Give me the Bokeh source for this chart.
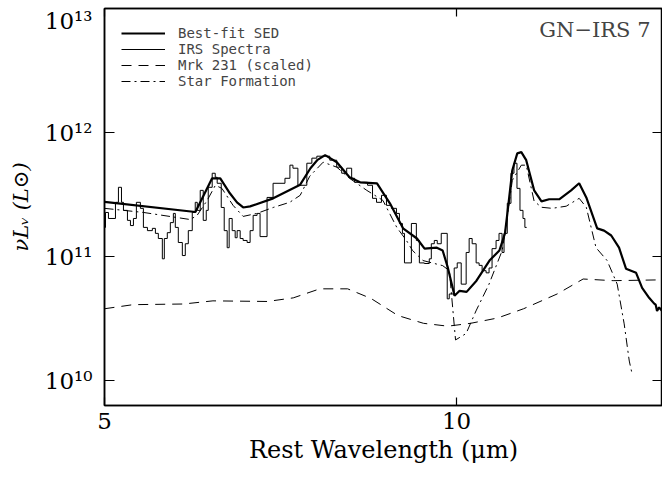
from bokeh.plotting import figure
from bokeh.models import LogAxis, FixedTicker, Label, Legend, LegendItem, CustomJSTickFormatter
from bokeh.embed import file_html
from bokeh.resources import INLINE

# ---------------- data (rest wavelength in micron, nuL_nu in L_sun) ----------------
sed_wl = [5.00, 5.98, 6.18, 6.28, 6.40, 6.49, 6.57, 6.66, 6.97, 7.35, 7.50, 7.60, 7.72, 7.90,
          8.10, 8.27, 8.55, 8.77, 9.00, 9.25, 9.39, 9.62, 9.73, 9.83, 9.96, 10.06, 10.20, 10.40,
          10.67, 10.88, 11.00, 11.06, 11.16, 11.27, 11.36, 11.47, 11.65, 11.82, 12.00, 12.24,
          12.53, 12.73, 12.91, 13.19, 13.37, 13.56, 13.77, 13.96, 14.24, 14.41, 14.61, 14.75,
          14.80, 14.84, 14.90, 15.00]
sed_L = [2.76e11, 2.29e11, 4.28e11, 4.28e11, 3.24e11, 2.74e11, 2.49e11, 2.54e11, 2.95e11, 3.8e11,
         5.16e11, 5.99e11, 6.58e11, 5.77e11, 4.36e11, 3.97e11, 3.90e11, 2.69e11, 1.69e11, 1.40e11,
         1.16e11, 1.18e11, 1.12e11, 8.15e10, 4.83e10, 5.3e10, 5.2e10, 6.4e10, 9.3e10, 1.12e11,
         1.54e11, 2.36e11, 4.97e11, 6.8e11, 6.95e11, 5.99e11, 3.42e11, 2.79e11, 2.9e11, 2.9e11,
         3.42e11, 3.9e11, 3.0e11, 1.69e11, 1.62e11, 1.48e11, 1.18e11, 8.0e10, 7.4e10, 5.6e10,
         4.66e10, 4.2e10, 4.1e10, 3.65e10, 3.9e10, 3.6e10]

irs_wl = [5.000, 5.010, 5.039, 5.109, 5.139, 5.170, 5.190, 5.231, 5.262, 5.293, 5.324, 5.366,
          5.398, 5.441, 5.494, 5.527, 5.559, 5.603, 5.625, 5.658, 5.692, 5.726, 5.748, 5.782,
          5.828, 5.862, 5.897, 5.943, 5.978, 6.002, 6.037, 6.073, 6.109, 6.133, 6.181, 6.218,
          6.242, 6.292, 6.329, 6.366, 6.391, 6.429, 6.467, 6.492, 6.531, 6.569, 6.621, 6.660,
          6.700, 6.752, 6.792, 6.886, 6.968, 7.133, 7.203, 7.246, 7.317, 7.447, 7.521, 7.595,
          7.791, 7.898, 7.976, 8.055, 8.134, 8.182, 8.393, 8.475, 8.542, 8.626, 8.711, 8.797,
          8.884, 8.936, 8.989, 9.025, 9.149, 9.239, 9.294, 9.385, 9.477, 9.515, 9.571, 9.627,
          9.703, 9.818, 9.857, 9.954, 10.013, 10.092, 10.191, 10.251, 10.312, 10.393, 10.454,
          10.516, 10.599, 10.661, 10.724, 10.809, 10.872, 10.937, 10.980, 11.050, 11.131,
          11.197, 11.263, 11.330, 11.397, 11.440]
irs_L = [1.72e11, 2.27e11, 2.03e11, 2.74e11, 3.62e11, 2.74e11, 2.36e11, 1.96e11, 1.78e11, 2.03e11,
         2.74e11, 2.45e11, 1.72e11, 1.62e11, 1.69e11, 1.54e11, 1.40e11, 9.6e10, 1.40e11, 1.56e11,
         1.88e11, 2.23e11, 1.72e11, 1.30e11, 1.02e11, 1.27e11, 1.62e11, 2.27e11, 2.74e11, 2.36e11,
         3.42e11, 1.96e11, 2.36e11, 3.62e11, 4.70e11, 4.36e11, 3.90e11, 2.49e11, 1.62e11, 1.18e11,
         2.03e11, 1.62e11, 1.42e11, 1.62e11, 1.40e11, 1.35e11, 1.30e11, 1.62e11, 2.15e11, 2.23e11,
         1.45e11, 3.00e11, 3.90e11, 4.28e11, 5.46e11, 5.16e11, 3.76e11, 5.66e11, 6.22e11, 6.45e11,
         5.99e11, 5.26e11, 4.70e11, 5.16e11, 4.28e11, 3.97e11, 3.76e11, 2.95e11, 2.74e11, 3.12e11,
         2.59e11, 2.45e11, 2.23e11, 1.85e11, 1.54e11, 8.9e10, 1.85e11, 1.35e11, 8.9e10, 8.8e10,
         9.6e10, 1.27e11, 1.35e11, 1.27e11, 1.54e11, 4.57e10, 5.0e10, 8.1e10, 8.9e10, 6.0e10,
         1.08e11, 1.40e11, 1.27e11, 8.9e10, 8.5e10, 7.7e10, 7.4e10, 8.1e10, 1.16e11, 1.35e11,
         1.54e11, 1.08e11, 1.54e11, 2.69e11, 4.70e11, 5.66e11, 3.55e11, 2.36e11, 2.03e11, 1.72e11]
irs_end = 11.48

mrk_wl = [5.00, 5.29, 5.84, 6.19, 6.89, 7.25, 7.64, 8.07, 8.45, 8.91, 9.37, 9.83, 10.28, 10.84,
          11.41, 12.19, 12.83, 13.61, 15.00]
mrk_L = [3.8e10, 4.1e10, 4.15e10, 4.4e10, 4.35e10, 4.65e10, 5.5e10, 5.5e10, 4.6e10, 3.35e10,
         2.9e10, 2.75e10, 2.9e10, 3.2e10, 3.8e10, 5.0e10, 6.6e10, 6.4e10, 6.5e10]

sf_wl = [5.00, 5.40, 5.92, 6.00, 6.12, 6.22, 6.30, 6.44, 6.57, 6.75, 6.97, 7.20, 7.35, 7.49, 7.69,
         7.90, 8.10, 8.38, 8.65, 8.89, 9.06, 9.17, 9.36, 9.73, 9.86, 9.98, 10.19, 10.39, 10.66,
         10.94, 11.03, 11.16, 11.36, 11.47, 11.65, 11.82, 12.07, 12.41, 12.73, 12.91, 13.16,
         13.45, 13.72, 13.91, 14.05, 14.13]
sf_L = [2.45e11, 2.27e11, 1.99e11, 2.15e11, 2.84e11, 3.76e11, 3.55e11, 2.59e11, 2.11e11, 2.23e11,
        2.49e11, 2.74e11, 3.12e11, 4.45e11, 5.77e11, 5.26e11, 4.28e11, 3.42e11, 2.84e11, 1.72e11,
        1.35e11, 1.12e11, 9.3e10, 8.46e10, 7.7e10, 2.13e10, 2.4e10, 3.65e10, 6.0e10, 1.12e11,
        1.85e11, 4.12e11, 5.46e11, 5.46e11, 2.8e11, 2.5e11, 2.45e11, 2.55e11, 2.95e11, 2.5e11,
        1.18e11, 9.3e10, 6.0e10, 2.87e10, 1.44e10, 1.13e10]

x_ticks = [5, 10]
x_tick_labels = ["5", "10"]
y_ticks = [1e10, 1e11, 1e12, 1e13]
y_tick_labels = ["10\u00b9\u2070", "10\u00b9\u00b9", "10\u00b9\u00b2", "\n10\u00b9\u00b3"]
legend_labels = ["Best-fit SED", "IRS Spectra", "Mrk 231 (scaled)", "Star Formation"]
title_text = "GN\u2212IRS 7"
x_label = "Rest Wavelength (\u03bcm)"
y_label = "\u03bdL\u1d65 (L\u2299)"

# ---------------- figure ----------------
SERIF = "DejaVu Serif"
p = figure(width=662, height=478, x_axis_type="log", y_axis_type="log",
           x_range=(5, 15), y_range=(10 ** 9.8, 1e13),
           output_backend="svg", toolbar_location=None,
           min_border_left=104, min_border_right=0, min_border_top=8, min_border_bottom=73)
p.background_fill_color = "white"
p.border_fill_color = "white"
p.outline_line_color = "black"
p.outline_line_width = 1.5
p.xgrid.visible = False
p.ygrid.visible = False

def style_axis(ax, tick_len, ticks):
    ax.ticker = FixedTicker(ticks=ticks, minor_ticks=[])
    ax.major_tick_in = tick_len
    ax.major_tick_out = 0
    ax.minor_tick_line_color = None
    ax.axis_line_color = "black"
    ax.axis_line_width = 1.5
    ax.major_tick_line_color = "black"
    ax.major_tick_line_width = 1.2

def blank_labels(ax):
    ax.formatter = CustomJSTickFormatter(code="return ''")
    ax.major_label_text_font_size = "1px"
    ax.major_label_standoff = 0

xax = p.xaxis[0]
yax = p.yaxis[0]
style_axis(xax, 8, x_ticks)
style_axis(yax, 10, y_ticks)
xax.major_label_overrides = {float(v): t for v, t in zip(x_ticks, x_tick_labels)}
yax.major_label_overrides = {float(v): t for v, t in zip(y_ticks, y_tick_labels)}
for ax in (xax, yax):
    ax.major_label_text_font = SERIF
    ax.major_label_text_font_size = "23px"
    ax.major_label_text_color = "black"
    ax.axis_label_text_font = SERIF
    ax.axis_label_text_color = "black"
yax.major_label_text_line_height = 0.3
xax.major_label_standoff = 7
yax.major_label_standoff = 12
xax.axis_label = x_label
xax.axis_label_text_font_size = "24px"
xax.axis_label_text_font_style = "normal"
xax.axis_label_standoff = 4
yax.axis_label = y_label
yax.axis_label_text_font_size = "21px"
yax.axis_label_text_font_style = "italic"
yax.axis_label_standoff = 9

top_ax = LogAxis()
right_ax = LogAxis()
style_axis(top_ax, 8, x_ticks)
style_axis(right_ax, 10, y_ticks)
blank_labels(top_ax)
blank_labels(right_ax)
p.add_layout(top_ax, "above")
p.add_layout(right_ax, "right")

# ---------------- data renderers ----------------
r_mrk = p.line(mrk_wl, mrk_L, line_color="black", line_width=1, line_dash="10 7")
r_sf = p.line(sf_wl, sf_L, line_color="black", line_width=1, line_dash="9 4 2 4")
r_irs = p.step(irs_wl + [irs_end], irs_L + [irs_L[-1]], mode="after",
               line_color="black", line_width=1)
r_sed = p.line(sed_wl, sed_L, line_color="black", line_width=2.2)

legend = Legend(items=[LegendItem(label=legend_labels[0], renderers=[r_sed]),
                       LegendItem(label=legend_labels[1], renderers=[r_irs]),
                       LegendItem(label=legend_labels[2], renderers=[r_mrk]),
                       LegendItem(label=legend_labels[3], renderers=[r_sf])],
                location="top_left", margin=17, padding=0, spacing=0,
                glyph_width=44, glyph_height=14, label_standoff=13,
                label_text_font="DejaVu Sans Mono", label_text_font_size="14px",
                border_line_color=None, background_fill_alpha=0)
p.add_layout(legend)

p.add_layout(Label(x=546, y=376, x_units="screen", y_units="screen", text=title_text,
                   text_font=SERIF, text_font_size="21px", text_align="right",
                   text_baseline="alphabetic"))

open("out.html", "w").write(file_html(p, INLINE))
